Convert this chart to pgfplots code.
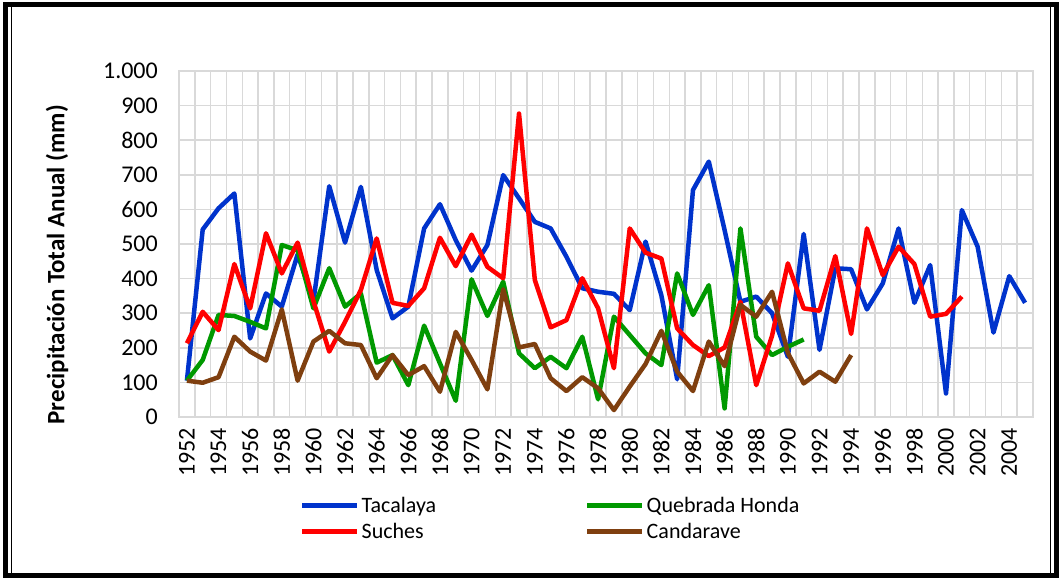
\documentclass[border=0pt]{standalone}
\usepackage{fontspec}
\setmainfont{Carlito}
\usepackage{pgfplots}
\pgfplotsset{compat=1.18}
\usepackage{pgfplotstable}
\definecolor{cTac}{RGB}{0,51,204}
\definecolor{cQH}{RGB}{0,153,0}
\definecolor{cSu}{RGB}{255,0,0}
\definecolor{cCa}{RGB}{127,63,15}
\definecolor{gridc}{RGB}{217,217,217}

\pgfplotstableread{
year val
1952 105
1953 542
1954 603
1955 646
1956 227
1957 357
1958 319
1959 470
1960 335
1961 667
1962 504
1963 665
1964 425
1965 285
1966 319
1967 545
1968 615
1969 511
1970 423
1971 497
1972 699
1973 632
1974 564
1975 545
1976 463
1977 372
1978 362
1979 356
1980 309
1981 507
1982 352
1983 109
1984 656
1985 738
1986 540
1987 333
1988 348
1989 300
1990 174
1991 529
1992 194
1993 430
1994 427
1995 311
1996 386
1997 545
1998 330
1999 439
2000 68
2001 598
2002 492
2003 244
2004 407
2005 330
}\tacalaya

\pgfplotstableread{
year val
1952 105
1953 165
1954 295
1955 292
1956 275
1957 256
1958 497
1959 482
1960 314
1961 430
1962 319
1963 357
1964 157
1965 179
1966 92
1967 264
1968 155
1969 47
1970 398
1971 292
1972 391
1973 184
1974 141
1975 174
1976 141
1977 232
1978 51
1979 290
1980 237
1981 184
1982 150
1983 415
1984 295
1985 381
1986 25
1987 545
1988 232
1989 179
1990 203
1991 224
}\quebrada

\pgfplotstableread{
year val
1952 213
1953 304
1954 251
1955 442
1956 314
1957 531
1958 415
1959 504
1960 335
1961 189
1962 275
1963 367
1964 516
1965 330
1966 321
1967 372
1968 518
1969 436
1970 527
1971 434
1972 401
1973 877
1974 396
1975 259
1976 280
1977 401
1978 314
1979 141
1980 545
1981 475
1982 458
1983 256
1984 208
1985 176
1986 201
1987 333
1988 92
1989 235
1990 444
1991 314
1992 307
1993 465
1994 240
1995 545
1996 410
1997 492
1998 442
1999 290
2000 298
2001 348
}\suches

\pgfplotstableread{
year val
1952 105
1953 99
1954 115
1955 232
1956 189
1957 163
1958 311
1959 105
1960 218
1961 249
1962 213
1963 208
1964 112
1965 179
1966 121
1967 147
1968 73
1969 246
1970 165
1971 80
1972 369
1973 201
1974 211
1975 112
1976 75
1977 115
1978 83
1979 20
1980 88
1981 153
1982 249
1983 131
1984 75
1985 218
1986 147
1987 324
1988 290
1989 362
1990 185
1991 97
1992 131
1993 102
1994 179
}\candarave

\begin{document}
\begin{tikzpicture}[x=1pt,y=1pt]
\useasboundingbox (0,0) rectangle (1062,580);
\draw[line width=4.5pt] (5.5,4.5) rectangle (1056.5,575.5);
\draw[line width=1.2pt] (11.5,7) -- (11.5,573);
\draw[line width=1.2pt] (1050.5,7) -- (1050.5,573);
\begin{axis}[
  at={(179pt,163pt)}, anchor=south west,
  scale only axis, width=854pt, height=346pt,
  xmin=1951.5, xmax=2005.5, ymin=0, ymax=1000,
  xtick={1952,1954,...,2004},
  xticklabels={1952,1954,1956,1958,1960,1962,1964,1966,1968,1970,1972,1974,1976,1978,1980,1982,1984,1986,1988,1990,1992,1994,1996,1998,2000,2002,2004},
  minor xtick={1951.5,1952.5,...,2005.5},
  xminorgrids, ymajorgrids,
  ytick={0,100,...,1000},
  yticklabels={0,100,200,300,400,500,600,700,800,900,1.000},
  major tick length=0pt, minor tick length=0pt,
  grid style={draw=gridc, line width=1.5pt},
  minor grid style={draw=gridc, line width=1.5pt},
  axis line style={draw=gridc, line width=1.5pt},
  tick label style={font=\fontsize{24}{28}\selectfont},
  xticklabel style={rotate=90, anchor=east, inner sep=0pt},
  yticklabel style={anchor=east, inner sep=0pt},
  xticklabel shift=11pt, yticklabel shift=21pt,
  ylabel={Precipitación Total Anual (mm)},
  ylabel style={font=\bfseries\fontsize{25}{30}\selectfont, at={(axis description cs:-0.1429,0.44)}, anchor=center},
  legend columns=2,
  legend cell align=left,
  legend style={draw=none, fill=none, at={(0.1417,-0.2255)}, anchor=north west,
    font=\fontsize{22}{26}\selectfont, inner sep=0pt,
    /tikz/every even column/.append style={column sep=147pt}, row sep=5pt},
  legend image code/.code={\draw[#1, line width=4.5pt] (0pt,0pt) -- (55pt,0pt);},
  every axis plot/.append style={line width=4.5pt, line join=round, mark=none},
]
\addplot[cTac] table[x=year,y=val] {\tacalaya};
\addlegendentry{Tacalaya}
\addplot[cQH] table[x=year,y=val] {\quebrada};
\addlegendentry{Quebrada Honda}
\addplot[cSu] table[x=year,y=val] {\suches};
\addlegendentry{Suches}
\addplot[cCa] table[x=year,y=val] {\candarave};
\addlegendentry{Candarave}
\end{axis}
\end{tikzpicture}
\end{document}
